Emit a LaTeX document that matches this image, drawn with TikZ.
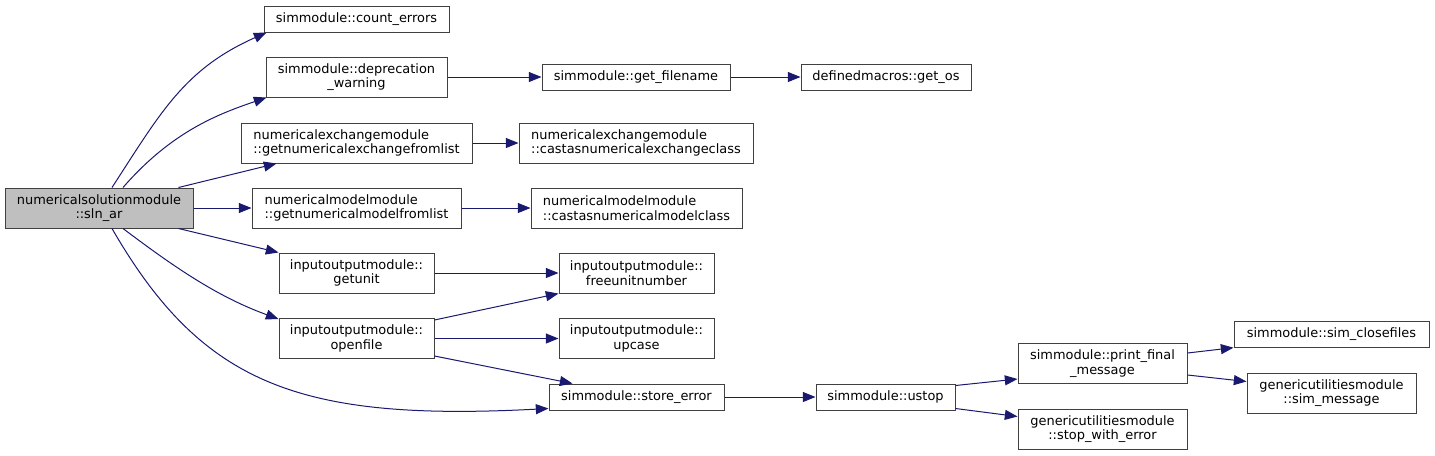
\documentclass[tikz,border=0pt]{standalone}
\usepackage{fontspec}
\setmainfont{DejaVu Sans}
\usetikzlibrary{arrows.meta,calc}
\definecolor{edgeblue}{HTML}{191970}
\definecolor{boxgray}{HTML}{404040}
\definecolor{rootfill}{HTML}{BFBFBF}
\begin{document}
\begin{tikzpicture}[x=0.75pt,y=0.75pt,
  box/.style={draw=boxgray, fill=white, line width=0.75pt, inner sep=0pt,
    align=center, font=\fontsize{9.7pt}{11pt}\selectfont},
  lbox/.style={box, align=left},
  edge/.style={draw=edgeblue, line width=0.75pt,
    -{Triangle[length=9.5pt,width=7.5pt]}}]
\useasboundingbox (0,0) rectangle (1435,-455);

\node[box, fill=rootfill, minimum width=141pt, minimum height=30pt] (sln) at (99,-208) {numericalsolutionmodule\\::sln\_ar};
\node[box, minimum width=138.75pt, minimum height=19.5pt] (count) at (356.5,-19) {simmodule::count\_errors};
\node[box, minimum width=135.75pt, minimum height=30pt] (deprec) at (356.5,-77) {simmodule::deprecation\\\_warning};
\node[lbox, minimum width=173.25pt, minimum height=30pt] (getnex) at (356.5,-143) {numericalexchangemodule\\::getnumericalexchangefromlist};
\node[lbox, minimum width=156.75pt, minimum height=30pt] (getnm) at (356.5,-208) {numericalmodelmodule\\::getnumericalmodelfromlist};
\node[box, minimum width=116.25pt, minimum height=30pt] (getunit) at (356.5,-273) {inputoutputmodule::\\getunit};
\node[box, minimum width=116.25pt, minimum height=30pt] (openfile) at (356.5,-338.5) {inputoutputmodule::\\openfile};
\node[box, minimum width=141pt, minimum height=19.5pt] (getfile) at (636,-77) {simmodule::get\_filename};
\node[box, minimum width=127.5pt, minimum height=19.5pt] (getos) at (886,-77) {definedmacros::get\_os};
\node[lbox, minimum width=175.5pt, minimum height=30pt] (castnex) at (636,-143) {numericalexchangemodule\\::castasnumericalexchangeclass};
\node[lbox, minimum width=158.25pt, minimum height=30pt] (castnm) at (636.5,-208) {numericalmodelmodule\\::castasnumericalmodelclass};
\node[box, minimum width=116.25pt, minimum height=30pt] (freeunit) at (636.5,-273) {inputoutputmodule::\\freeunitnumber};
\node[box, minimum width=116.25pt, minimum height=30pt] (upcase) at (636.5,-338.5) {inputoutputmodule::\\upcase};
\node[box, minimum width=131.25pt, minimum height=19.5pt] (store) at (636.5,-397) {simmodule::store\_error};
\node[box, minimum width=104.25pt, minimum height=19.5pt] (ustop) at (885.5,-397) {simmodule::ustop};
\node[box, minimum width=126.75pt, minimum height=30pt] (pfm) at (1102.5,-363.5) {simmodule::print\_final\\\_message};
\node[box, minimum width=146.25pt, minimum height=19pt] (closefiles) at (1331.5,-334.5) {simmodule::sim\_closefiles};
\node[box, minimum width=126.75pt, minimum height=30pt] (simmsg) at (1331.5,-393) {genericutilitiesmodule\\::sim\_message};
\node[box, minimum width=126.75pt, minimum height=30pt] (stopwe) at (1102.5,-429) {genericutilitiesmodule\\::stop\_with\_error};

\draw[edge] ($(sln.north)+(13,0)$) .. controls +(57:90) and +(204:90) .. ($(count.south west)+(3,0)$);
\draw[edge] ($(sln.north)+(24,0)$) .. controls +(49:75) and +(199:50) .. ($(deprec.south west)+(1,0)$);
\draw[edge] ($(sln.north east)+(-15,0)$) -- ($(getnex.south west)+(36,0)$);
\draw[edge] (sln) -- (getnm);
\draw[edge] ($(sln.south east)+(-15,0)$) -- (getunit.north west);
\draw[edge] ($(sln.south)+(24,0)$) .. controls +(-37:65) and +(160:65) .. ($(openfile.north west)+(0,-1)$);
\draw[edge] ($(sln.south)+(13,0)$) .. controls +(-60:180) and +(183:250) .. ($(store.south west)+(0,2)$);
\draw[edge] (deprec) -- (getfile);
\draw[edge] (getfile) -- (getos);
\draw[edge] (getnex) -- (castnex);
\draw[edge] (getnm) -- (castnm);
\draw[edge] (getunit) -- (freeunit);
\draw[edge] ($(openfile.north east)+(0,-2)$) -- (freeunit.south west);
\draw[edge] (openfile) -- (upcase);
\draw[edge] ($(openfile.south east)+(0,3)$) -- ($(store.north west)+(24,0)$);
\draw[edge] (store) -- (ustop);
\draw[edge] ($(ustop.north east)+(0,-2)$) -- ($(pfm.south west)+(0,5)$);
\draw[edge] ($(ustop.south east)+(0,2)$) -- ($(stopwe.north west)+(0,-8)$);
\draw[edge] ($(pfm.north east)+(0,-10)$) -- (closefiles.south west);
\draw[edge] ($(pfm.south east)+(0,9)$) -- ($(simmsg.north west)+(0,-9)$);
\end{tikzpicture}
\end{document}
